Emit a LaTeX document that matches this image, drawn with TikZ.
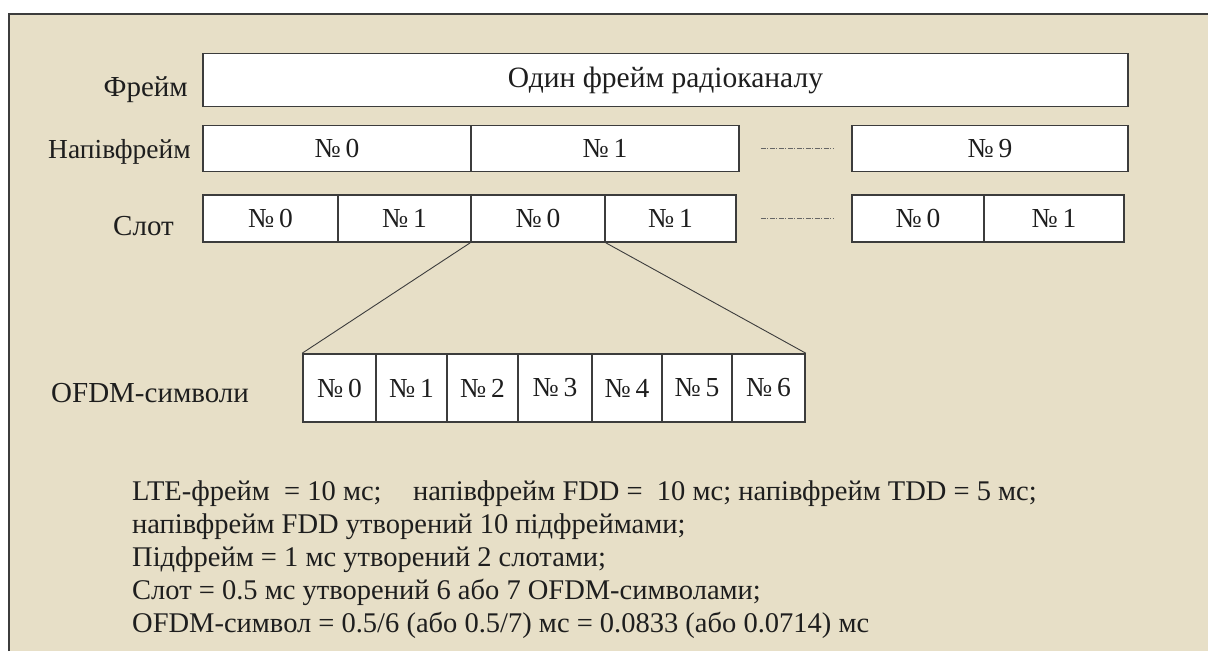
\documentclass[tikz,border=0pt]{standalone}
\usepackage{fontspec}
\setmainfont{Liberation Serif}
\begin{document}
\begin{tikzpicture}[x=1pt,y=-1pt,
  every node/.style={text=inkc},
  cell/.style={draw=boxline, fill=white, line width=1.6pt, inner sep=0pt, font=\fontsize{27.5}{30}\selectfont},
  lbl/.style={inner sep=0pt, font=\fontsize{29}{32}\selectfont},
  note/.style={inner sep=0pt, anchor=base west, font=\fontsize{28.5}{33}\selectfont},
  gapline/.style={draw=gray!80!black, line width=0.8pt, dash pattern=on 5pt off 1.5pt on 1pt off 1.5pt},
  zoomline/.style={draw=boxline, line width=0.9pt}]
\definecolor{paper}{RGB}{231,223,199}
\definecolor{boxline}{RGB}{60,60,60}
\definecolor{inkc}{RGB}{30,30,30}
\useasboundingbox (0,0) rectangle (1208,651);
\fill[white] (0,0) rectangle (1208,651);
% panel
\fill[paper] (9,14) rectangle (1208,651);
\draw[boxline, line width=1.6pt] (9,651) -- (9,14) -- (1208,14);

% frame row
\node[cell, minimum width=925pt, minimum height=53pt, font=\fontsize{29.5}{32}\selectfont] (fr) at (665.5,80) {Один фрейм радіоканалу};
\node[lbl, anchor=east] (lfr) at (188,90) {Фрейм};

% half-frame row
\node[cell, minimum width=268pt, minimum height=46pt] (h0) at (337,148.5) {№\,0};
\node[cell, minimum width=268pt, minimum height=46pt] (h1) at (605,148.5) {№\,1};
\node[cell, minimum width=276pt, minimum height=46pt] (h9) at (990,148.5) {№\,9};
\node[lbl, anchor=east, font=\fontsize{27.5}{30}\selectfont] (lh) at (191,152) {Напівфрейм};
\draw[gapline, shorten <=21pt, shorten >=17pt] (h1.east) -- (h9.west);

% slot row
\node[cell, minimum width=135pt, minimum height=47pt] (s0) at (270.5,218.5) {№\,0};
\node[cell, minimum width=133pt, minimum height=47pt] (s1) at (404.5,218.5) {№\,1};
\node[cell, minimum width=134pt, minimum height=47pt] (s2) at (538,218.5) {№\,0};
\node[cell, minimum width=131pt, minimum height=47pt] (s3) at (670.5,218.5) {№\,1};
\node[cell, minimum width=132pt, minimum height=47pt] (s8) at (918,218.5) {№\,0};
\node[cell, minimum width=140pt, minimum height=47pt] (s9) at (1054,218.5) {№\,1};
\node[lbl, anchor=east] (ls) at (174,226) {Слот};
\draw[gapline, shorten <=24pt, shorten >=17pt] (s3.east) -- (s8.west);

% OFDM symbols
\node[cell, minimum width=73pt, minimum height=68pt] (o0) at (339.5,388) {№\,0};
\node[cell, minimum width=71pt, minimum height=68pt] (o1) at (411.5,388) {№\,1};
\node[cell, minimum width=71pt, minimum height=68pt] (o2) at (482.5,388) {№\,2};
\node[cell, minimum width=74pt, minimum height=68pt] (o3) at (555,388) {№\,3};
\node[cell, minimum width=70pt, minimum height=68pt] (o4) at (627,388) {№\,4};
\node[cell, minimum width=70pt, minimum height=68pt] (o5) at (697,388) {№\,5};
\node[cell, minimum width=73pt, minimum height=68pt] (o6) at (768.5,388) {№\,6};
\node[lbl, anchor=west] (lo) at (51,393) {OFDM-символи};

% expansion of one slot
\draw[zoomline] (s2.south west) -- (o0.north west);
\draw[zoomline] (s2.south east) -- (o6.north east);

% notes
\node[note] (t1) at (132,500) {LTE-фрейм\ \ = 10 мс;\hspace{1.1em}напівфрейм FDD =\ \ 10 мс; напівфрейм TDD = 5 мс;};
\node[note] (t2) at (132,533) {напівфрейм FDD утворений 10 підфреймами;};
\node[note] (t3) at (132,566) {Підфрейм = 1 мс утворений 2 слотами;};
\node[note] (t4) at (132,599) {Слот = 0.5 мс утворений 6 або 7 OFDM-символами;};
\node[note] (t5) at (132,632) {OFDM-символ = 0.5/6 (або 0.5/7) мс = 0.0833 (або 0.0714) мс};
\end{tikzpicture}
\end{document}
